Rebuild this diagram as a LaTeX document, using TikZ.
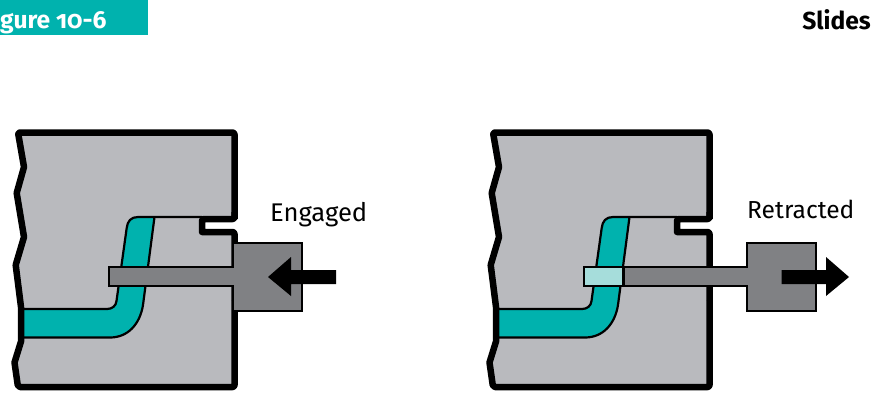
\documentclass[tikz,border=0pt]{standalone}
\usepackage{fontspec}
\setmainfont{Fira Sans}[Numbers=OldStyle]
\definecolor{teal1}{HTML}{00B2AE}
\definecolor{moldgray}{HTML}{B9BABE}
\definecolor{slidegray}{HTML}{808184}
\definecolor{paleteal}{HTML}{A6DDDB}
\tikzset{
  thinline/.style={line width=2.2pt,line join=round},
  thickline/.style={line width=6.5pt,line join=round},
  slidepart/.style={draw=black,fill=slidegray,line width=2.2pt,line join=miter},
  motion/.style={fill=black,draw=none},
  label/.style={inner sep=0pt,anchor=base west,font=\fontsize{25.6}{28}\selectfont},
  headlabel/.style={inner sep=0pt,anchor=base west,text=white,font=\fontsize{24.6}{28}\selectfont\bfseries}
}
\newcommand{\moldbody}{%
  \fill[moldgray] (18,132.5) -- (234.5,132.5) -- (234.5,219) -- (202,219) -- (202,232) -- (234.5,232) -- (234.5,387) -- (18,387) -- (14.5,362.5) -- (21,341.5) -- (21,307) -- (15.7,265) -- (24,237) -- (16.7,193) -- (24,167) -- cycle;
  \fill[teal1] (21,309) -- (107,309) .. controls (112,309) and (116,306) .. (116.5,301) -- (126.7,228) .. controls (127.5,221) and (131,217) .. (138,217) -- (154.5,217) -- (143,305) .. controls (140,324) and (128,337.5) .. (110,337.5) -- (21,337.5) -- cycle;
  \draw[thinline] (21,309) -- (107,309) .. controls (112,309) and (116,306) .. (116.5,301) -- (126.7,228) .. controls (127.5,221) and (131,217) .. (138,217) -- (202,217);
  \draw[thinline] (154.5,217) -- (143,305) .. controls (140,324) and (128,337.5) .. (110,337.5) -- (21,337.5);
  \draw[thickline] (234.5,219) [rounded corners=2pt] -- (234.5,132.5) -- (18,132.5) [sharp corners] -- (24,167) -- (16.7,193) -- (24,237) -- (15.7,265) -- (21,307) -- (21,341.5) -- (14.5,362.5) [rounded corners=2pt] -- (18,387) -- (234.5,387) [sharp corners] -- (234.5,300);
  \draw[thickline] [rounded corners=2pt] (234.5,212) -- (234.5,219) -- (202,219) [sharp corners] -- (202,232) [rounded corners=2pt] -- (234.5,232) [sharp corners] -- (234.5,300);
}
\begin{document}
\begin{tikzpicture}[x=1pt,y=-1pt]
\useasboundingbox (0,0) rectangle (889,392);
\fill[teal1] (0,0) rectangle (148,35);
\begin{scope}
\clip (0,0) rectangle (148,35);
\node[headlabel] (fig) at (0,28) {gure 10-6};
\end{scope}
\node[headlabel,text=black,anchor=base east] (sec) at (871,29) {Slides};
% Engaged
\begin{scope}
\moldbody
\draw[slidepart] (233,286) -- (109,286) -- (109,267) -- (233,267) -- (233,243) -- (302,243) -- (302,311) -- (233,311) -- cycle;
\fill[motion] (336,270) -- (291,270) -- (291,257) -- (268,277) -- (291,296) -- (291,284) -- (336,284) -- cycle;
\node[label] (eng) at (270,221) {Engaged};
\end{scope}
% Retracted
\begin{scope}[shift={(475,0)}]
\moldbody
\draw[slidepart] (272,286) -- (109,286) -- (109,267) -- (272,267) -- (272,243) -- (341,243) -- (341,311) -- (272,311) -- cycle;
\draw[line width=2.2pt,fill=paleteal] (109,267) rectangle (148.5,286);
\fill[motion] (306.5,270) -- (351,270) -- (351,257) -- (374,277) -- (351,296) -- (351,284) -- (306.5,284) -- cycle;
\node[label,font=\fontsize{24.6}{28}\selectfont] (ret) at (272,218) {Retracted};
\end{scope}
\end{tikzpicture}
\end{document}
